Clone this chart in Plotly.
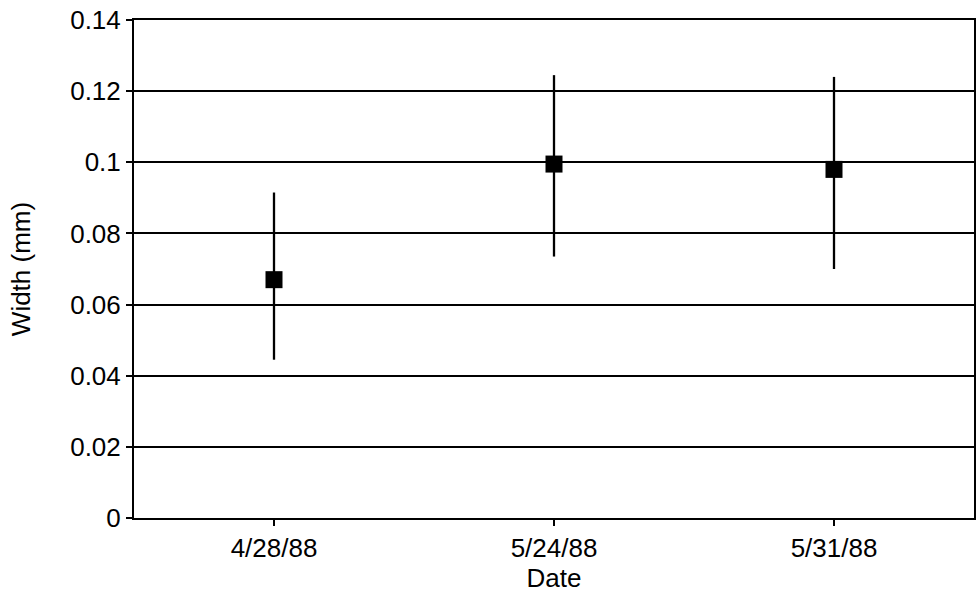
import plotly.graph_objects as go

dates = ["4/28/88", "5/24/88", "5/31/88"]
width_mm = [0.067, 0.0995, 0.098]
err_plus = [0.0245, 0.025, 0.026]
err_minus = [0.0225, 0.026, 0.028]
y_ticks = [0, 0.02, 0.04, 0.06, 0.08, 0.1, 0.12, 0.14]
y_tick_text = ["0", "0.02", "0.04", "0.06", "0.08", "0.1", "0.12", "0.14"]

fig = go.Figure()
fig.add_trace(go.Scatter(
    x=dates, y=width_mm, mode="markers",
    marker=dict(symbol="square", size=17, color="black"),
    error_y=dict(type="data", array=err_plus, arrayminus=err_minus,
                 symmetric=False, width=0, thickness=2.3, color="black"),
    showlegend=False,
))

font = dict(family="Liberation Sans, Arial, sans-serif", size=26, color="black")
fig.update_layout(
    width=976, height=594,
    margin=dict(l=134, r=2, t=20, b=76, autoexpand=False),
    paper_bgcolor="white", plot_bgcolor="white",
    font=font,
    xaxis=dict(
        type="category", range=[-0.5, 2.5],
        showline=True, linecolor="black", linewidth=2, mirror=True,
        ticks="outside", ticklen=6, tickwidth=1.5, tickcolor="black",
        showgrid=False, zeroline=False,
        title=dict(text="Date", standoff=2, font=font),
        tickfont=font, automargin=False,
    ),
    yaxis=dict(
        range=[0, 0.14], tickvals=y_ticks, ticktext=y_tick_text,
        showline=True, linecolor="black", linewidth=2, mirror=True,
        ticks="outside", ticklen=6, tickwidth=1.5, tickcolor="black",
        showgrid=True, gridcolor="black", gridwidth=1.5, zeroline=False,
        title=dict(text="Width (mm)", standoff=32, font=font),
        tickfont=font, automargin=False,
    ),
)

fig.write_html("out.html", config={"displayModeBar": False},
               post_script="document.body.style.margin='0';")
